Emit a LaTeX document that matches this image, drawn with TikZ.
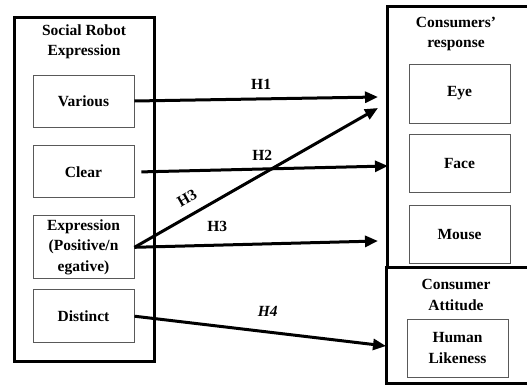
\documentclass[tikz,border=0pt]{standalone}
\usepackage{fontspec}
\setmainfont{Liberation Serif}
\usetikzlibrary{positioning,arrows.meta}

\begin{document}
\begin{tikzpicture}[
    x=1pt, y=-1pt,
    frame/.style={rectangle, draw, line width=3pt, inner sep=0pt},
    item/.style={rectangle, draw=black!65, line width=0.9pt, align=center, minimum width=101pt, minimum height=58pt, inner sep=2pt, font=\bfseries\fontsize{15.5}{20.5}\selectfont},
    head/.style={align=center, inner sep=0pt, font=\bfseries\fontsize{15.5}{20.5}\selectfont},
    hyp/.style={line width=3pt, -{Triangle[length=13pt, width=11pt]}},
    lab/.style={inner sep=0pt, font=\bfseries\fontsize{15.5}{18}\selectfont},
]
\useasboundingbox (0,0) rectangle (527,385);

% social robot expression
\node[frame, minimum width=140pt, minimum height=343pt] (srobot) at (84,189.5) {};
\node[head] (srtitle) at (84,42) {Social Robot\\Expression};
\node[item, minimum height=52pt] (various) at (83.5,101) {Various};
\node[item, minimum height=52pt, below=18pt of various] (clear) {Clear};
\node[item, minimum height=63pt, below=17pt of clear] (expr) {Expression\\(Positive/n\\egative)};
\node[item, minimum height=53pt, below=10pt of expr] (distinct) {Distinct};

% consumers' response
\node[frame, minimum width=143.5pt, minimum height=260.5pt] (response) at (459.25,136.75) {};
\node[head] (rtitle) at (456,34) {Consumers’\\response};
\node[item, minimum height=59pt] (eye) at (459.5,93.5) {Eye};
\node[item, below=11pt of eye] (face) {Face};
\node[item, below=12pt of face] (mouse) {Mouse};

% consumer attitude
\node[frame, minimum width=144.5pt, minimum height=116pt] (attitude) at (458.75,325) {};
\node[head] (atitle) at (456,295) {Consumer\\Attitude};
\node[item] (human) at (457.5,348) {Human\\Likeness};

% hypotheses
\coordinate (t1) at (378,97);
\coordinate (t2) at (388,166);
\coordinate (t3) at (378,108);
\coordinate (t4) at (378,241);
\coordinate (t5) at (386,346);

\draw[hyp] (various.east) -- node[lab, above=8pt, pos=0.52] {H1} (t1);
\draw[hyp] ([xshift=7pt]clear.east) -- node[lab, above=7pt, pos=0.49] {H2} (t2);
\draw[hyp] (expr.east) -- node[lab, sloped, above=10pt, pos=0.25] {H3} (t3);
\draw[hyp] (expr.east) -- node[lab, above=12pt, pos=0.34] {H3} (t4);
\draw[hyp] (distinct.east) -- node[lab, above=14pt, pos=0.53] {\itshape H4} (t5);
\end{tikzpicture}
\end{document}
